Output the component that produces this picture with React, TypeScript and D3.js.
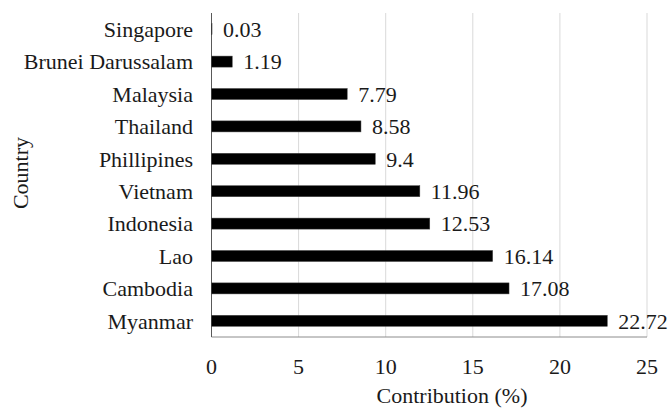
import React from "react";
import * as d3 from "d3";

const countries = ["Singapore", "Brunei Darussalam", "Malaysia", "Thailand", "Phillipines", "Vietnam", "Indonesia", "Lao", "Cambodia", "Myanmar"];
const values = [0.03, 1.19, 7.79, 8.58, 9.4, 11.96, 12.53, 16.14, 17.08, 22.72];
const valueLabels = ["0.03", "1.19", "7.79", "8.58", "9.4", "11.96", "12.53", "16.14", "17.08", "22.72"];
const xTicks = [0, 5, 10, 15, 20, 25];

const FONT = "'Liberation Serif', 'Times New Roman', serif";

export default function App() {
  const W = 668, H = 408;
  const left = 211.5, right = 647, top = 13, bottom = 337;
  const x = d3.scaleLinear().domain([0, 25]).range([left, right]);
  const y = d3.scaleBand<string>().domain(countries).range([top, bottom]).paddingInner(0.66).paddingOuter(0.33);
  const ts = { fontFamily: FONT, fontSize: 22, fill: "#1a1a1a" } as React.CSSProperties;
  return (
    <svg width={W} height={H} style={{ position: "absolute", left: 0, top: 0, background: "#fff" }}>
      {xTicks.filter(t => t > 0).map(t => (
        <line key={t} x1={x(t)} x2={x(t)} y1={top} y2={bottom} stroke="#d9d9d9" strokeWidth={1} />
      ))}
      <line x1={left} x2={right} y1={bottom} y2={bottom} stroke="#8c8c8c" strokeWidth={1} />
      <line x1={left} x2={left} y1={top} y2={bottom} stroke="#595959" strokeWidth={1} />
      {countries.map((c, i) => {
        const yc = (y(c) as number) + y.bandwidth() / 2;
        return (
          <g key={c}>
            <rect x={x(0)} y={y(c)} width={x(values[i]) - x(0)} height={y.bandwidth()} fill="#000" stroke="#444" strokeWidth={0.5} />
            <text x={x(values[i]) + 11} y={yc} dy="0.35em" style={ts}>{valueLabels[i]}</text>
            <text x={193} y={yc} dy="0.35em" textAnchor="end" style={ts}>{c}</text>
          </g>
        );
      })}
      {xTicks.map(t => (
        <text key={t} x={x(t)} y={366} dy="0.35em" textAnchor="middle" style={ts}>{t}</text>
      ))}
      <text x={452} y={395} dy="0.35em" textAnchor="middle" style={ts}>Contribution (%)</text>
      <text transform={`translate(20,173) rotate(-90)`} dy="0.35em" textAnchor="middle" style={ts}>Country</text>
    </svg>
  );
}
